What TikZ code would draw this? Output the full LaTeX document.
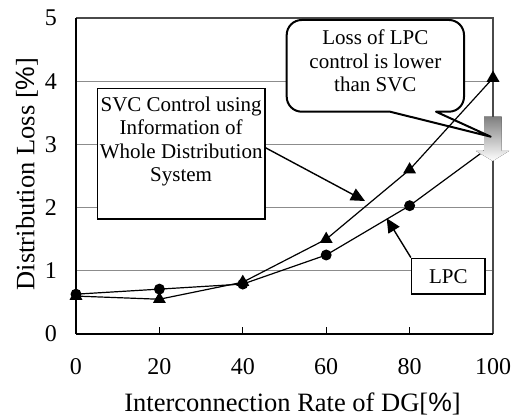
\documentclass[tikz,border=0pt]{standalone}
\usepackage{fontspec}
\setmainfont{Liberation Serif}
\newfontfamily\pctfont{Liberation Sans}
\usetikzlibrary{arrows.meta,positioning,calc,shapes.geometric}
\definecolor{gridgray}{HTML}{8C8C8C}
\definecolor{framegray}{HTML}{4A4A4A}
\definecolor{shade}{HTML}{8A9099}
\tikzset{ticklab/.style={font=\fontsize{24}{28}\selectfont,inner sep=0pt},axtitle/.style={font=\fontsize{26.5}{30}\selectfont,inner sep=0pt},box/.style={draw=black,line width=1.6pt,fill=white,inner sep=0pt,font=\fontsize{21}{23.6}\selectfont},curve/.style={line width=1.2pt},dot/.style={circle,fill=black,inner sep=0pt,minimum size=11pt},tri/.style={regular polygon,regular polygon sides=3,fill=black,inner sep=0pt,minimum size=15pt},arrow/.style={-{Triangle[length=14pt,width=13pt]},line width=1.4pt},bubble/.style={draw=black,line width=2pt,line join=round}}
\newcommand\bubblepath{(losstip) -- ($(lossSW)+(103.3,0)$) -- ($(lossSW)+(15,0)$) arc[start angle=270,end angle=180,radius=15] -- ($(lossSW|-lossNE)+(0,-15)$) arc[start angle=180,end angle=90,radius=15] -- ($(lossNE)+(-15,0)$) arc[start angle=90,end angle=0,radius=15] -- ($(lossNE|-lossSW)+(0,15)$) arc[start angle=0,end angle=-90,radius=15] -- ($(lossSW)+(149.3,0)$) -- cycle}

\begin{document}
\begin{tikzpicture}[x=1pt,y=1pt]
\useasboundingbox (-76,-83) rectangle (451,334);
% grid and frame
\foreach \v in {1,2,3,4}
  \draw[gridgray,line width=1.1pt] (0,{63.2*\v}) -- (417,{63.2*\v});
\draw[framegray,line width=1.1pt] (0,316) -- (417,316) -- (417,0);
\draw[line width=1.1pt] (0,0) -- (0,316);
\draw[line width=1.8pt] (0,0) -- (417,0);
\foreach \p in {20,40,60,80}
  \draw[line width=0.8pt] ({4.17*\p},0) -- ({4.17*\p},7);
% tick labels and titles
\foreach \v in {0,...,5}
  \node[ticklab,anchor=east] (y\v) at (-19,{63.2*\v}) {\v};
\foreach \p in {0,20,...,100}
  \node[ticklab,anchor=base] (x\p) at ({4.17*\p},-41) {\p};
\node[axtitle,anchor=base] (xtitle) at (216.5,-77.7) {Interconnection Rate of DG[{\pctfont\%}]};
\node[axtitle,rotate=90] (ytitle) at (-49,160) {Distribution Loss [{\pctfont\%}]};
% callout corners
\coordinate (lossSW) at (210.7,222.3);
\coordinate (lossNE) at (388,314);
\coordinate (losstip) at (414.7,197.3);
\fill[white] \bubblepath;
% data
\foreach \p/\v [count=\i] in {0/0.60,20/0.55,40/0.82,60/1.50,80/2.60,100/4.05}
  \coordinate (s\i) at ({4.17*\p},{63.2*\v});
\foreach \p/\v [count=\i] in {0/0.63,20/0.71,40/0.79,60/1.25,80/2.03,100/3.00}
  \coordinate (l\i) at ({4.17*\p},{63.2*\v});
\draw[curve] (s1) -- (s2) -- (s3) -- (s4) -- (s5) -- (s6);
\draw[curve] (l1) -- (l2) -- (l3) -- (l4) -- (l5) -- (l6);
\foreach \i in {1,...,6}{
  \node[dot] (ld\i) at (l\i) {};
  \node[tri] (sd\i) at (s\i) {};
}
% gray arrow
\fill[shade] (408,217.3) -- (425.7,217.3) -- (425.7,183) -- (433,183) -- (416.8,173) -- (400,183) -- (408,183) -- cycle;
% callout
\draw[bubble] \bubblepath;
\node[font=\fontsize{21}{23.6}\selectfont,inner sep=0pt] (loss) at ($(lossSW)!0.5!(lossNE)$) {\begin{minipage}[c][91.7pt][t]{177.3pt}\centering\vspace*{10pt}Loss of LPC\\control is lower\\than SVC\end{minipage}};
% boxes
\node[box,anchor=north west] (svc) at (20.7,246.3) {\begin{minipage}[c][130.6pt][t]{167.3pt}\centering\vspace*{8pt}SVC Control using\\Information of\\Whole Distribution\\System\end{minipage}};
\node[box,minimum width=73.3pt,minimum height=35.7pt] (lpc) at (372.3,57.8) {LPC};
\coordinate (svctip) at (289,133);
\coordinate (lpctip) at (310.7,115.7);
\draw[arrow] ([yshift=6pt]svc.east) -- (svctip);
\draw[arrow] (lpc.north west) -- (lpctip);
\end{tikzpicture}
\end{document}
